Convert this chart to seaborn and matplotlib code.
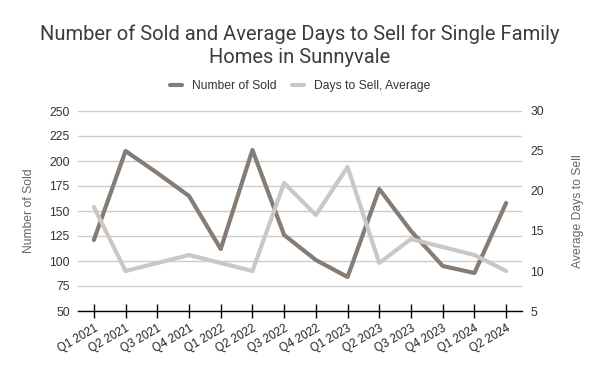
import matplotlib
matplotlib.use("Agg")
import matplotlib.pyplot as plt
import seaborn as sns
import pandas as pd

quarters = ["Q1 2021", "Q2 2021", "Q3 2021", "Q4 2021", "Q1 2022", "Q2 2022", "Q3 2022",
            "Q4 2022", "Q1 2023", "Q2 2023", "Q3 2023", "Q4 2023", "Q1 2024", "Q2 2024"]
number_sold = [121, 210, 188, 165, 112, 211, 126, 101, 84, 172, 130, 95, 88, 158]
days_to_sell = [18, 10, 11, 12, 11, 10, 21, 17, 23, 11, 14, 13, 12, 10]

left_ticks = [50, 75, 100, 125, 150, 175, 200, 225, 250]
right_ticks = [5, 10, 15, 20, 25, 30]

dark = "#857c75"
light = "#cdc7c3"

df = pd.DataFrame({"quarter": quarters, "idx": range(len(quarters)),
                   "sold": number_sold, "days": days_to_sell})

sns.set_style("white")
plt.rcParams['font.family'] = ['Liberation Sans', 'DejaVu Sans']

fig = plt.figure(figsize=(6, 3.71), dpi=100)
ax = fig.add_axes([78/600, 1 - 311/371, 444/600, 200/371])
ax2 = ax.twinx()

sns.lineplot(data=df, x="idx", y="sold", ax=ax, color=dark, linewidth=3, label="Number of Sold", legend=False)
sns.lineplot(data=df, x="idx", y="days", ax=ax2, color=light, linewidth=3, label="Days to Sell, Average", legend=False)

ax.set_xlim(-0.5, len(quarters) - 0.5)
ax.set_ylim(50, 250)
ax2.set_ylim(5, 30)
ax.set_yticks(left_ticks)
ax2.set_yticks(right_ticks)
ax.set_xticks(range(len(quarters)))
ax.set_xticklabels(quarters, rotation=30, ha="right", rotation_mode="anchor", fontsize=8.3, color="#222222")
ax.tick_params(axis="x", bottom=True, length=10, width=1, direction="inout", pad=3, color="black")
ax2.tick_params(axis="x", bottom=False, top=False)
ax.tick_params(axis="y", length=0, labelsize=8.7, labelcolor="#333333", pad=6)
ax2.tick_params(axis="y", length=0, labelsize=8.7, labelcolor="#333333", pad=6)

for a in (ax, ax2):
    for s in a.spines.values():
        s.set_visible(False)
ax.spines["bottom"].set_visible(True)
ax.spines["bottom"].set_color("black")
ax.spines["bottom"].set_linewidth(1)

ax.grid(axis="y", color="#cccccc", linewidth=1)
ax.set_axisbelow(True)
ax2.grid(False)

ax.set_xlabel("")
ax.set_ylabel("Number of Sold", fontsize=8.7, color="#666666", labelpad=10)
ax2.set_ylabel("Average Days to Sell", fontsize=8.7, color="#666666", labelpad=20)

fig.suptitle("Number of Sold and Average Days to Sell for Single Family\nHomes in Sunnyvale",
             fontsize=14.5, color="#3c3c3c", y=0.935, family=["Roboto", "DejaVu Sans"], linespacing=1.3)

h1, l1 = ax.get_legend_handles_labels()
h2, l2 = ax2.get_legend_handles_labels()
leg = fig.legend(h1 + h2, l1 + l2, loc="center", bbox_to_anchor=(0.5, 1 - 86/371), ncol=2,
                 frameon=False, fontsize=8.7, handlelength=1.0, handletextpad=0.8, columnspacing=1.3)
for t in leg.get_texts():
    t.set_color("#333333")

fig.savefig("out.png", dpi=100)
